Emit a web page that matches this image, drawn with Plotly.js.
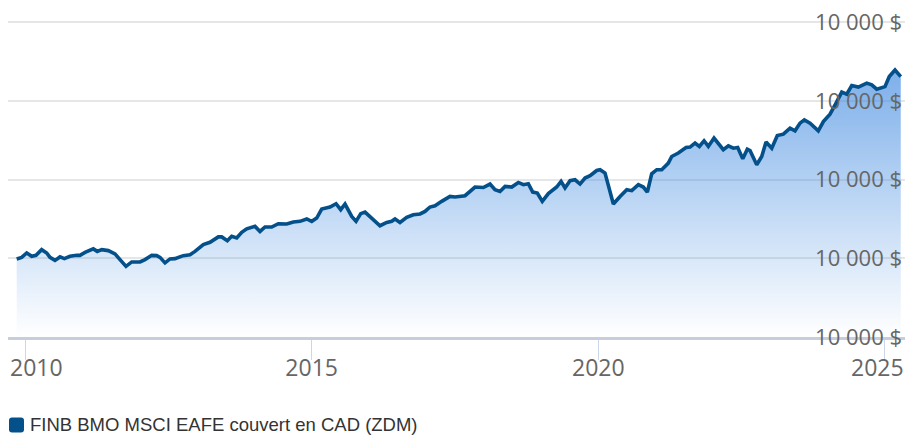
<!DOCTYPE html>
<html>
<head>
<meta charset="utf-8">
<script src="https://cdn.plot.ly/plotly-3.0.1.min.js"></script>
<style>
  html, body { margin: 0; padding: 0; background: #ffffff; }
  #chart { width: 905px; height: 435px; }
</style>
</head>
<body>
<div id="chart"></div>
<script>
// Decimal years of each observation
const years = [
  2009.855, 2009.942, 2010.030, 2010.117, 2010.192, 2010.291, 2010.379, 2010.436, 2010.523, 2010.611,
  2010.686, 2010.785, 2010.902, 2010.959, 2011.047, 2011.191, 2011.261, 2011.338, 2011.453, 2011.570,
  2011.657, 2011.762, 2011.861, 2012.006, 2012.093, 2012.210, 2012.297, 2012.355, 2012.442, 2012.529,
  2012.616, 2012.761, 2012.878, 2012.965, 2013.110, 2013.227, 2013.372, 2013.431, 2013.529, 2013.605,
  2013.693, 2013.780, 2013.867, 2014.012, 2014.099, 2014.186, 2014.303, 2014.418, 2014.565, 2014.680,
  2014.797, 2014.914, 2015.001, 2015.088, 2015.175, 2015.320, 2015.425, 2015.507, 2015.582, 2015.699,
  2015.774, 2015.856, 2015.931, 2016.048, 2016.192, 2016.309, 2016.396, 2016.454, 2016.541, 2016.658,
  2016.773, 2016.890, 2016.977, 2017.064, 2017.152, 2017.268, 2017.413, 2017.500, 2017.675, 2017.849,
  2017.994, 2018.111, 2018.198, 2018.285, 2018.373, 2018.489, 2018.605, 2018.692, 2018.779, 2018.856,
  2018.936, 2019.023, 2019.128, 2019.274, 2019.350, 2019.419, 2019.507, 2019.594, 2019.681, 2019.768,
  2019.856, 2019.972, 2020.030, 2020.117, 2020.175, 2020.262, 2020.379, 2020.496, 2020.583, 2020.698,
  2020.785, 2020.855, 2020.931, 2021.019, 2021.106, 2021.221, 2021.280, 2021.395, 2021.530, 2021.600,
  2021.687, 2021.762, 2021.844, 2021.919, 2022.018, 2022.093, 2022.180, 2022.268, 2022.355, 2022.431,
  2022.519, 2022.599, 2022.646, 2022.763, 2022.850, 2022.925, 2023.025, 2023.122, 2023.227, 2023.344,
  2023.431, 2023.518, 2023.593, 2023.693, 2023.837, 2023.925, 2024.041, 2024.146, 2024.246, 2024.333,
  2024.420, 2024.535, 2024.682, 2024.769, 2024.856, 2025.000, 2025.075, 2025.175, 2025.275
];

// Portfolio value ($)
const values = [
  9960, 10060, 10340, 10130, 10190, 10550, 10340, 10060, 9870, 10090,
  9980, 10130, 10190, 10190, 10380, 10600, 10440, 10550, 10490, 10280,
  9920, 9490, 9770, 9770, 9920, 10190, 10170, 10060, 9710, 9960,
  9980, 10170, 10230, 10440, 10870, 11020, 11360, 11360, 11120, 11400,
  11290, 11650, 11870, 12030, 11710, 11990, 11990, 12200, 12180, 12310,
  12350, 12500, 12350, 12560, 13130, 13260, 13470, 13090, 13450, 12660,
  12350, 12840, 12940, 12560, 12070, 12280, 12350, 12500, 12280, 12600,
  12770, 12820, 12980, 13260, 13340, 13620, 13930, 13900, 13980, 14530,
  14500, 14720, 14360, 14250, 14570, 14530, 14820, 14680, 14740, 14210,
  14150, 13620, 14110, 14530, 14890, 14470, 14930, 14990, 14720, 15100,
  15250, 15580, 15630, 15420, 14680, 13450, 13930, 14360, 14300, 14680,
  14530, 14210, 15370, 15630, 15630, 16050, 16470, 16690, 17040, 17070,
  17320, 17110, 17470, 17110, 17640, 17320, 16900, 17150, 17000, 17040,
  16330, 16940, 16850, 15950, 16470, 17390, 17000, 17800, 17890, 18270,
  18100, 18590, 18800, 18590, 18100, 18690, 19160, 19860, 20560, 20430,
  20980, 20880, 21130, 21020, 20750, 20910, 21550, 21970, 21550
];

const seriesName = 'FINB BMO MSCI EAFE couvert en CAD (ZDM)';
const xTickVals = [2010, 2015, 2020, 2025];
const xTickText = ['2010', '2015', '2020', '2025'];
const yTickVals = [5000, 10000, 15000, 20000, 25000];
const yTickText = ['10 000 $', '10 000 $', '10 000 $', '10 000 $', '10 000 $'];

const lineColor = '#03508a';
const xRange = [2009.7035, 2025.349];
const tickFont = { family: '"Open Sans", sans-serif', size: 23, color: '#666666' };

const traces = [
  {
    x: years,
    y: values,
    name: seriesName,
    type: 'scatter',
    mode: 'lines',
    line: { color: lineColor, width: 3.6, shape: 'linear' },
    fill: 'tozeroy',
    fillgradient: {
      type: 'vertical',
      start: 5000,
      stop: 22000,
      colorscale: [
        [0, 'rgba(74,144,226,0.0)'],
        [1, 'rgba(74,144,226,0.72)']
      ]
    },
    showlegend: false,
    hoverinfo: 'skip'
  }
];

// Legend swatch: rounded square, pixel-sized, anchored at the plot's left/bottom edge
const sw = { x0: 1, x1: 16, y0: -95.5, y1: -80.5, r: 3 };
const swatchPath =
  `M ${sw.x0 + sw.r},${sw.y0} L ${sw.x1 - sw.r},${sw.y0} Q ${sw.x1},${sw.y0} ${sw.x1},${sw.y0 + sw.r} ` +
  `L ${sw.x1},${sw.y1 - sw.r} Q ${sw.x1},${sw.y1} ${sw.x1 - sw.r},${sw.y1} ` +
  `L ${sw.x0 + sw.r},${sw.y1} Q ${sw.x0},${sw.y1} ${sw.x0},${sw.y1 - sw.r} ` +
  `L ${sw.x0},${sw.y0 + sw.r} Q ${sw.x0},${sw.y0} ${sw.x0 + sw.r},${sw.y0} Z`;

// The first and last year labels are nudged inward so they stay inside the chart
const innerIdx = [1, 2];
const edgeShift = { 0: 11, 3: -7 };
const edgeLabels = Object.keys(edgeShift).map(k => ({
  xref: 'x', yref: 'paper',
  x: xTickVals[k], y: (337.5 - 368) / 327.5,
  xanchor: 'center', yanchor: 'middle',
  xshift: edgeShift[k],
  text: xTickText[k],
  showarrow: false,
  font: tickFont
}));

const layout = {
  width: 905,
  height: 435,
  margin: { l: 8, r: 0, t: 10, b: 97.5, autoexpand: false },
  paper_bgcolor: '#ffffff',
  plot_bgcolor: '#ffffff',
  showlegend: false,
  hovermode: false,
  xaxis: {
    type: 'linear',
    range: xRange,
    tickvals: xTickVals,
    ticktext: xTickVals.map((v, i) => innerIdx.includes(i) ? xTickText[i] : ''),
    showgrid: false,
    zeroline: false,
    showline: true,
    linecolor: '#c6cedb',
    linewidth: 3,
    ticks: 'outside',
    ticklen: 20,
    tickwidth: 1,
    tickcolor: '#ccd6eb',
    ticklabelstandoff: -12,
    ticklabeloverflow: 'allow',
    tickfont: tickFont,
    fixedrange: true
  },
  yaxis: {
    range: [5000, 25780],
    side: 'right',
    tickvals: yTickVals,
    ticktext: yTickText,
    ticklabelposition: 'inside',
    ticklabeloverflow: 'allow',
    ticks: '',
    showgrid: true,
    gridcolor: '#e6e6e6',
    gridwidth: 2,
    zeroline: false,
    showline: false,
    tickfont: { family: '"Open Sans", sans-serif', size: 22, color: '#666666' },
    fixedrange: true
  },
  shapes: [
    {
      type: 'path',
      xref: 'paper', yref: 'paper',
      xsizemode: 'pixel', ysizemode: 'pixel',
      xanchor: 0, yanchor: 0,
      path: swatchPath,
      fillcolor: lineColor,
      line: { width: 0 }
    }
  ],
  annotations: edgeLabels.concat([
    {
      xref: 'paper', yref: 'paper',
      x: (28 - 8) / 897, y: (337.5 - 425.5) / 327.5,
      xanchor: 'left', yanchor: 'middle',
      text: seriesName,
      showarrow: false,
      font: { family: '"Liberation Sans", Arial, sans-serif', size: 18.5, color: '#333333' }
    }
  ])
};

Plotly.newPlot('chart', traces, layout, { displayModeBar: false, staticPlot: true });
</script>
</body>
</html>
